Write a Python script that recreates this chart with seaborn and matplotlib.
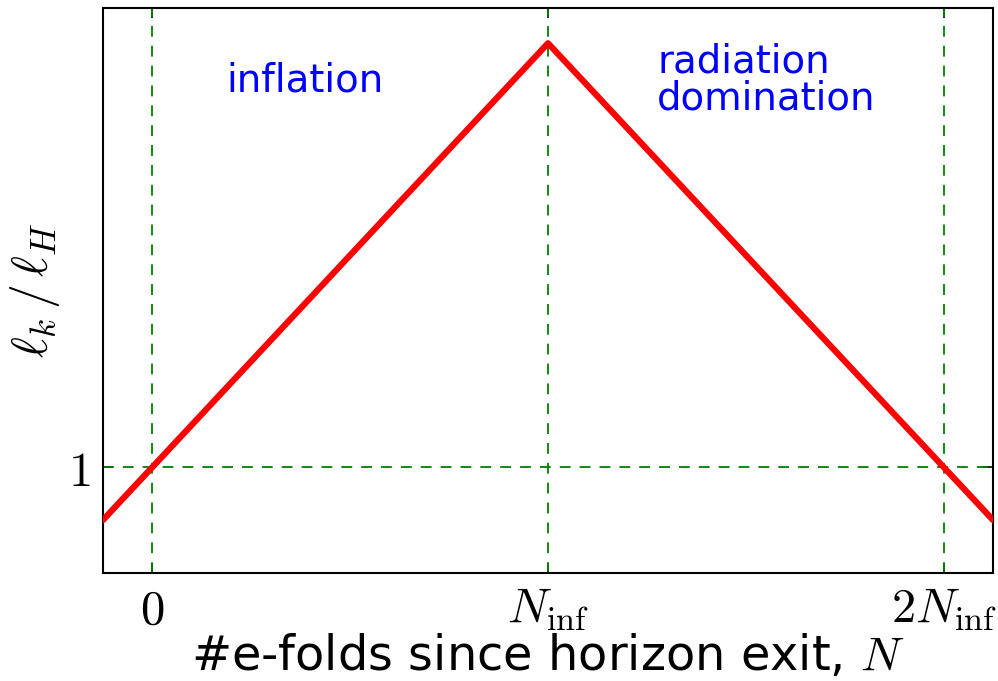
import numpy as np
import pandas as pd
import seaborn as sns
import matplotlib.pyplot as plt

# e-folds (in units of N_inf) and comoving scale relative to the Hubble length
n_efolds = [-0.125, 1.0, 2.125]
scale_ratio = [0.875, 2.0, 0.875]
tick_pos = [0, 1, 2]
tick_labels = [r'$0$', r'$N_{\rm inf}$', r'$2N_{\rm inf}$']

df = pd.DataFrame({'N': n_efolds, 'ratio': scale_ratio})

sns.set_style('ticks')
plt.rcParams['font.family'] = ['DejaVu Sans']
plt.rcParams['mathtext.fontset'] = 'cm'
plt.rcParams['text.color'] = 'black'
plt.rcParams['axes.labelcolor'] = 'black'
plt.rcParams['xtick.color'] = 'black'
plt.rcParams['ytick.color'] = 'black'

fig = plt.figure(figsize=(9.98, 6.81), dpi=100)
ax = fig.add_axes([0.1032, 0.1586, 0.8918, 0.8296])

for x in tick_pos:
    ax.axvline(x, color='green', lw=1.3, ls=(0, (6, 5)), zorder=1)
ax.axhline(1, color='green', lw=1.3, ls=(0, (6, 5)), zorder=1)

sns.lineplot(data=df, x='N', y='ratio', color='red', lw=4.5, ax=ax, zorder=3)

ax.set_xlim(-0.125, 2.125)
ax.set_ylim(0.75, 2.083)
ax.set_xticks(tick_pos)
ax.set_xticklabels(tick_labels)
ax.set_yticks([1])
ax.set_yticklabels([r'$1$'])
ax.tick_params(direction='in', top=True, right=True, labelsize=35, length=7, width=1.2, pad=9)
for s in ax.spines.values():
    s.set_linewidth(1.5)
    s.set_color('black')

ax.set_xlabel(r'#e-folds since horizon exit, $N$', fontsize=34.5, labelpad=0)
ax.set_ylabel(r'$\ell_k\,/\,\ell_H$', fontsize=36, labelpad=4)

ax.text(0.187, 1.913, 'inflation', color='blue', fontsize=27.8, ha='left', va='center')
ax.text(1.276, 1.913, 'radiation\ndomination', color='blue', fontsize=27.8, ha='left', va='center',
        linespacing=0.97)

fig.savefig('out.png', dpi=100)
